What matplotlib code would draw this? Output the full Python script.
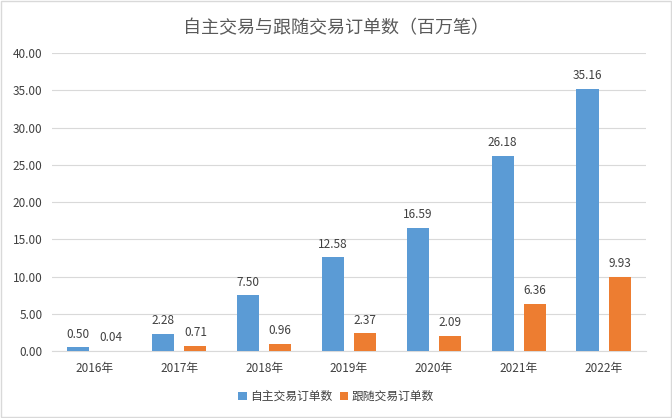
import matplotlib.pyplot as plt
import numpy as np
from matplotlib.patches import Rectangle

plt.rcParams['font.family'] = ['Noto Sans CJK SC', 'DejaVu Sans']

years = ['2016年', '2017年', '2018年', '2019年', '2020年', '2021年', '2022年']
self_orders = [0.50, 2.28, 7.50, 12.58, 16.59, 26.18, 35.16]
follow_orders = [0.04, 0.71, 0.96, 2.37, 2.09, 6.36, 9.93]
series_names = ['自主交易订单数', '跟随交易订单数']
title = '自主交易与跟随交易订单数（百万笔）'

fig = plt.figure(figsize=(6.72, 4.18), dpi=100)
ax = fig.add_axes([0.0774, 0.160, 0.884, 0.713])

x = np.arange(len(years))
width = 0.26
offset = 0.19
text_color = '#404040'

b1 = ax.bar(x - offset, self_orders, width, color='#5B9BD5', label=series_names[0], zorder=3)
b2 = ax.bar(x + offset, follow_orders, width, color='#ED7D31', label=series_names[1], zorder=3)

for bars, vals in ((b1, self_orders), (b2, follow_orders)):
    for bar, v in zip(bars, vals):
        ax.text(bar.get_x() + bar.get_width() / 2, v + 0.9, f'{v:.2f}',
                ha='center', va='bottom', fontsize=8.5, color=text_color)

ax.set_ylim(0, 40)
ax.set_xlim(-0.5, len(years) - 0.5)
ax.set_yticks(np.arange(0, 41, 5))
ax.set_yticklabels([f'{t:.2f}' for t in np.arange(0, 41, 5)])
ax.set_xticks(x)
ax.set_xticklabels(years)
ax.tick_params(axis='both', length=0, labelsize=8.5, labelcolor=text_color)
ax.tick_params(axis='x', pad=8)
ax.tick_params(axis='y', pad=7)
ax.grid(axis='y', color='#d9d9d9', linewidth=0.8, zorder=0)
for s in ('top', 'right', 'left'):
    ax.spines[s].set_visible(False)
ax.spines['bottom'].set_color('#d9d9d9')

fig.suptitle(title, y=0.955, fontsize=13, color='#595959')
fig.legend(loc='lower center', bbox_to_anchor=(0.5, 0.01), ncol=2, frameon=False,
           fontsize=8.5, handlelength=0.7, handleheight=0.7, handletextpad=0.3,
           columnspacing=0.6, labelcolor=text_color)

fig.patches.append(Rectangle((0.002, 0.003), 0.996, 0.994, transform=fig.transFigure,
                             fill=False, edgecolor='#d9d9d9', linewidth=1))

fig.savefig('out.png', dpi=100)
